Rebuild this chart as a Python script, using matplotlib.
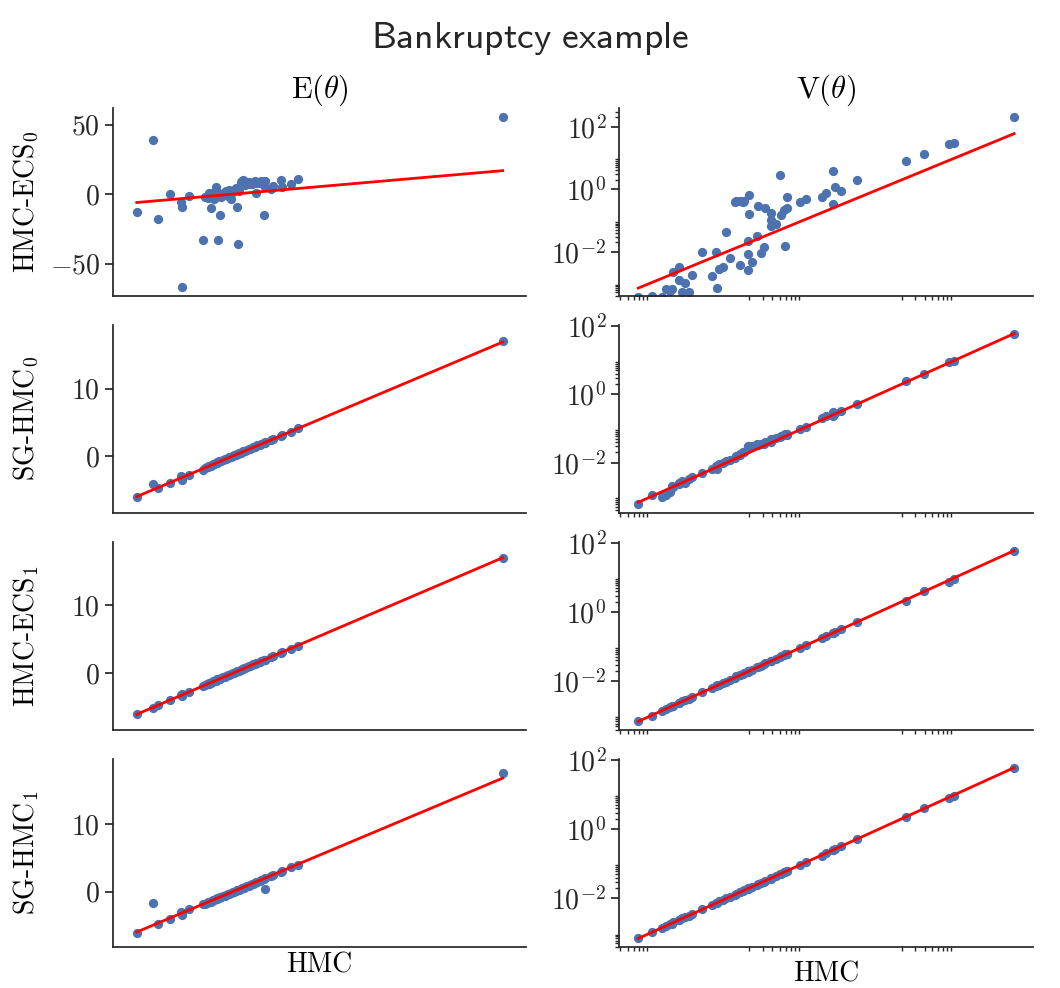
import numpy as np
import matplotlib
matplotlib.use("Agg")
import matplotlib.pyplot as plt
from matplotlib.ticker import MaxNLocator, FixedLocator, NullFormatter

# computer modern look, like the usetex original
plt.rcParams["font.family"] = "serif"
plt.rcParams["font.serif"] = ["cmr10"]
plt.rcParams["mathtext.fontset"] = "cm"
plt.rcParams["axes.formatter.use_mathtext"] = True
plt.rcParams["axes.unicode_minus"] = True

# posterior means, HMC is the reference on the x axis
hmc_mean = [-6.0, -5.0, -4.7, -3.9, -3.25, -3.2, -3.15, -2.75, -1.85, -1.7,
            -1.62, -1.55, -1.5, -1.45, -1.38, -1.3, -1.22, -1.15, -1.06, -1.0,
            -0.95, -0.9, -0.85, -0.78, -0.7, -0.6, -0.5, -0.4, -0.3, -0.2,
            -0.1, 0.0, 0.1, 0.2, 0.27, 0.35, 0.4, 0.5, 0.58, 0.65,
            0.7, 0.8, 0.9, 1.0, 1.1, 1.2, 1.3, 1.4, 1.46, 1.55,
            1.7, 1.8, 1.94, 2.0, 2.05, 2.4, 2.5, 3.0, 3.1, 3.65,
            4.1, 16.9]
ecs0_mean = [-12.6, 39.0, -18.0, 0.0, -5.6, -67.0, -9.0, -1.5, -32.6, -2.4,
             -1.0, -3.0, -0.5, 0.5, -10.0, -1.5, 0.8, -3.5, 4.8, -0.8,
             1.8, -32.6, -1.2, -14.7, -2.4, 0.3, 1.5, 2.4, -1.0, 2.8,
             -3.6, 1.2, 3.0, 4.5, -9.0, -35.5, 2.4, 8.9, 9.6, 10.4,
             8.0, 6.3, 9.0, 8.8, 7.0, 7.5, 8.2, 9.3, 0.5, 8.2,
             7.8, 9.5, -15.2, 9.7, 5.1, 3.9, 5.8, 10.1, 5.1, 7.0,
             10.6, 55.8]
sghmc0_mean = [-6.1, -4.2, -4.8, -4.0, -3.0, -3.5, -3.2, -2.8, -2.0, -1.8,
               -1.6, -1.6, -1.5, -1.4, -1.4, -1.3, -1.2, -1.1, -1.0, -1.0,
               -0.9, -0.9, -0.8, -0.8, -0.7, -0.6, -0.5, -0.4, -0.3, -0.2,
               -0.1, 0.0, 0.1, 0.2, 0.3, 0.3, 0.4, 0.5, 0.6, 0.7,
               0.7, 0.8, 0.9, 1.0, 1.1, 1.2, 1.3, 1.4, 1.5, 1.6,
               1.7, 1.8, 1.9, 2.0, 2.1, 2.4, 2.5, 3.0, 3.1, 3.6,
               4.1, 17.1]
ecs1_mean = [-6.0, -5.1, -4.7, -3.9, -3.2, -3.3, -3.1, -2.7, -1.9, -1.7,
             -1.6, -1.5, -1.5, -1.4, -1.4, -1.3, -1.2, -1.2, -1.1, -1.0,
             -0.9, -0.9, -0.8, -0.8, -0.7, -0.6, -0.5, -0.4, -0.3, -0.2,
             -0.1, 0.0, 0.1, 0.2, 0.3, 0.4, 0.4, 0.5, 0.6, 0.6,
             0.7, 0.8, 0.9, 1.0, 1.1, 1.2, 1.3, 1.4, 1.5, 1.5,
             1.7, 1.8, 1.9, 2.0, 2.0, 2.4, 2.5, 3.0, 3.1, 3.6,
             4.0, 16.9]
sghmc1_mean = [-6.2, -1.7, -4.8, -4.0, -3.0, -3.4, -3.2, -2.6, -1.9, -1.8,
               -1.7, -1.6, -1.6, -1.5, -1.5, -1.4, -1.3, -1.2, -1.1, -1.1,
               -1.0, -1.0, -0.9, -0.8, -0.8, -0.7, -0.6, -0.5, -0.4, -0.3,
               -0.2, -0.1, 0.0, 0.1, 0.2, 0.2, 0.3, 0.4, 0.5, 0.5,
               0.6, 0.7, 0.8, 0.9, 1.0, 1.1, 1.2, 1.3, 1.4, 1.5,
               1.6, 1.7, 1.9, 0.4, 2.0, 2.3, 2.5, 2.9, 3.1, 3.6,
               4.0, 17.7]

# posterior variances (log10 values)
hmc_var_log = [-3.16, -2.98, -2.85, -2.80, -2.74, -2.72, -2.70, -2.63, -2.63, -2.58,
               -2.54, -2.50, -2.45, -2.32, -2.19, -2.14, -2.13, -2.10, -2.05, -2.01,
               -1.96, -1.89, -1.87, -1.82, -1.82, -1.78, -1.77, -1.72, -1.72, -1.72,
               -1.70, -1.70, -1.67, -1.60, -1.59, -1.55, -1.51, -1.49, -1.42, -1.42,
               -1.41, -1.35, -1.30, -1.28, -1.25, -1.23, -1.21, -1.21, -1.04, -0.96,
               -0.75, -0.69, -0.60, -0.60, -0.58, -0.49, -0.28, 0.36, 0.60, 0.92,
               0.99, 1.78]
ecs0_var_log = [-3.43, -3.42, -3.43, -3.19, -3.24, -3.20, -2.63, -2.47, -2.90, -3.30,
                -3.00, -3.30, -2.75, -2.01, -2.77, -2.01, -3.16, -2.56, -2.47, -1.37,
                -2.20, -0.42, -0.36, -2.42, -0.36, -0.42, -0.36, -1.65, -2.07, -2.58,
                -0.18, -0.80, -2.33, -1.50, -0.53, -2.05, -1.86, -0.59, -0.75, -1.19,
                -0.98, -1.10, 0.46, -0.82, -0.66, -1.81, -0.26, -0.60, -0.42, -0.30,
                -0.26, -0.13, 0.58, -0.47, 0.06, -0.04, 0.30, 0.90, 1.12, 1.44,
                1.47, 2.30]
sghmc0_var_log = [-3.22, -2.95, -3.00, -2.95, -2.85, -2.68, -2.72, -2.60, -2.63, -2.55,
                  -2.60, -2.48, -2.42, -2.30, -2.17, -2.10, -2.18, -2.05, -2.02, -1.95,
                  -1.92, -1.85, -1.80, -1.75, -1.78, -1.70, -1.68, -1.55, -1.52, -1.58,
                  -1.50, -1.53, -1.50, -1.45, -1.47, -1.45, -1.44, -1.40, -1.35, -1.38,
                  -1.32, -1.28, -1.25, -1.22, -1.20, -1.15, -1.15, -1.18, -1.02, -0.95,
                  -0.70, -0.62, -0.52, -0.62, -0.55, -0.48, -0.28, 0.38, 0.60, 0.95,
                  0.98, 1.76]
ecs1_var_log = [-3.16, -2.99, -2.86, -2.80, -2.74, -2.72, -2.70, -2.64, -2.62, -2.58,
                -2.54, -2.51, -2.45, -2.32, -2.19, -2.14, -2.12, -2.10, -2.05, -2.01,
                -1.96, -1.89, -1.86, -1.82, -1.81, -1.78, -1.76, -1.72, -1.71, -1.72,
                -1.69, -1.70, -1.67, -1.60, -1.59, -1.55, -1.51, -1.48, -1.42, -1.41,
                -1.41, -1.35, -1.30, -1.28, -1.25, -1.22, -1.21, -1.20, -1.04, -0.96,
                -0.76, -0.69, -0.60, -0.59, -0.58, -0.50, -0.28, 0.32, 0.60, 0.88,
                0.97, 1.78]
sghmc1_var_log = [-3.15, -2.98, -2.85, -2.81, -2.74, -2.73, -2.69, -2.62, -2.64, -2.58,
                  -2.55, -2.50, -2.46, -2.31, -2.20, -2.14, -2.13, -2.09, -2.05, -2.00,
                  -1.97, -1.89, -1.87, -1.82, -1.83, -1.78, -1.77, -1.72, -1.73, -1.71,
                  -1.70, -1.69, -1.66, -1.61, -1.59, -1.55, -1.52, -1.49, -1.42, -1.43,
                  -1.40, -1.35, -1.30, -1.29, -1.24, -1.23, -1.21, -1.22, -1.05, -0.96,
                  -0.77, -0.70, -0.61, -0.60, -0.57, -0.50, -0.28, 0.35, 0.61, 0.90,
                  0.97, 1.78]

methods = [r"HMC-ECS$_0$", r"SG-HMC$_0$", r"HMC-ECS$_1$", r"SG-HMC$_1$"]
means = [ecs0_mean, sghmc0_mean, ecs1_mean, sghmc1_mean]
variances = [ecs0_var_log, sghmc0_var_log, ecs1_var_log, sghmc1_var_log]
y_margins = [0.05, 0.1, 0.1, 0.085]

blue = "#4C72B0"
dark = "#262626"
minor_ticks = [k * 10.0 ** e for e in (-4, -2, 0, 2) for k in range(2, 10)]

fig, axes = plt.subplots(4, 2, figsize=(10.6, 9.88), dpi=100)
fig.subplots_adjust(left=0.1066, right=0.9745, top=0.8907, bottom=0.0415,
                    hspace=0.155, wspace=0.225)

x_mean = np.array(hmc_mean)
x_var = 10.0 ** np.array(hmc_var_log)

for i in range(4):
    # left: means
    ax = axes[i, 0]
    ax.scatter(x_mean, means[i], s=32, color=blue, zorder=2)
    lo, hi = x_mean.min(), x_mean.max()
    ax.plot([lo, hi], [lo, hi], color="red", lw=2, zorder=3)
    ax.set_xticks([])
    ax.yaxis.set_major_locator(MaxNLocator(nbins=3))
    ax.margins(x=0.065, y=y_margins[i])
    ax.set_ylabel(methods[i], fontsize=20)
    ax.yaxis.set_label_coords(-0.175, 0.5)

    # right: variances, log-log
    ax = axes[i, 1]
    y_var = 10.0 ** np.array(variances[i])
    ax.scatter(x_var, y_var, s=32, color=blue, zorder=2)
    lo, hi = x_var.min(), x_var.max()
    ax.plot([lo, hi], [lo, hi], color="red", lw=2, zorder=3)
    ax.set_xscale("log")
    ax.set_yscale("log")
    ax.set_xticks([])
    ax.xaxis.set_minor_locator(FixedLocator(minor_ticks))
    ax.xaxis.set_minor_formatter(NullFormatter())
    ax.set_yticks([1e-2, 1e0, 1e2])
    ax.yaxis.set_minor_locator(FixedLocator(minor_ticks))
    ax.yaxis.set_minor_formatter(NullFormatter())
    if i == 0:
        ax.set_ylim(10 ** -3.41, 10 ** 2.6)

for ax in axes.flat:
    for side in ["top", "right"]:
        ax.spines[side].set_visible(False)
    for side in ["left", "bottom"]:
        ax.spines[side].set_linewidth(1.25)
        ax.spines[side].set_color(dark)
    ax.tick_params(which="major", length=6, width=1.25, color=dark,
                   labelsize=20, labelcolor=dark)
    ax.tick_params(which="minor", length=3, width=1.0, color=dark)

axes[0, 0].set_title(r"$\mathrm{E}(\theta)$", fontsize=22, pad=5)
axes[0, 1].set_title(r"$\mathrm{V}(\theta)$", fontsize=22, pad=5)
axes[3, 0].set_xlabel("HMC", fontsize=20)
axes[3, 1].set_xlabel("HMC", fontsize=20)

fig.suptitle(r"$\mathsf{Bankruptcy\ example}$", fontsize=27, color=dark)

fig.savefig("out.png", dpi=100)
